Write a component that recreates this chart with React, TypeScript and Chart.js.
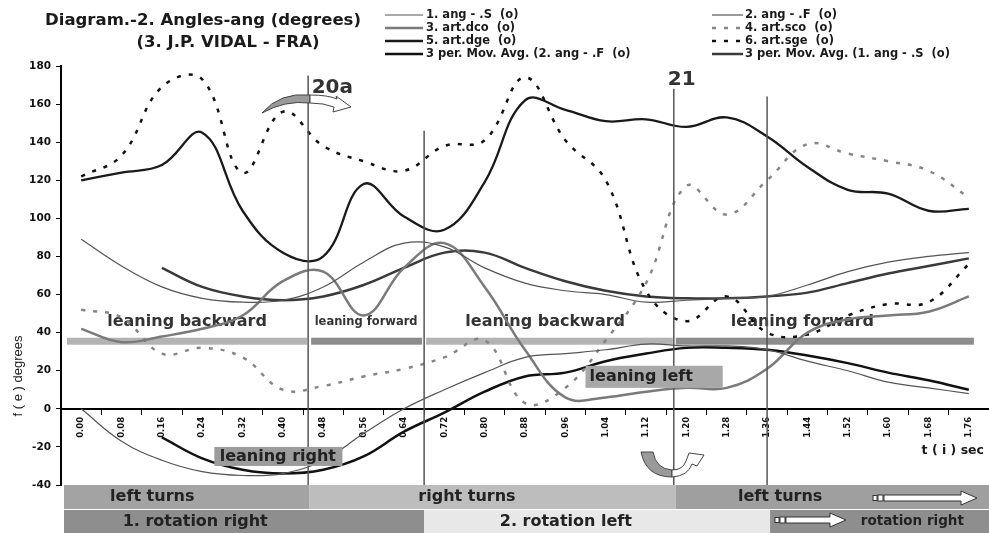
import React, { useEffect, useRef } from 'react';
import { Chart, registerables } from 'chart.js';
Chart.register(...registerables);

const categories = ['0.00','0.08','0.16','0.24','0.32','0.40','0.48','0.56','0.64','0.72','0.80','0.88','0.96','1.04','1.12','1.20','1.28','1.36','1.44','1.52','1.60','1.68','1.76'];

const angS   = [89, 75, 64, 58, 56, 57, 64, 77, 87, 85, 74, 66, 62, 60, 56, 57, 58, 59, 65, 72, 77, 80, 82];
const angF   = [0, -17, -27, -33, -35, -34, -27, -13, 0, 10, 19, 27, 29, 31, 34, 33, 33, 31, 25, 20, 14, 11, 8];
const artDco = [42, 35, 38, 42, 49, 67, 72, 49, 74, 87, 64, 31, 6, 6, 9, 11, 11, 21, 40, 47, 49, 51, 59];
const artSco = [52, 48, 29, 32, 27, 10, 12, 17, 21, 27, 36, 3, 11, 36, 66, 117, 102, 120, 139, 134, 130, 125, 111];
const artDge = [120, 124, 128, 145, 104, 82, 80, 118, 101, 94, 119, 162, 157, 151, 152, 148, 153, 143, 127, 115, 113, 104, 105];
const artSge = [122, 133, 169, 173, 124, 156, 138, 130, 125, 138, 141, 174, 141, 120, 62, 46, 59, 40, 39, 49, 55, 56, 76];
const maAngF = [null, null, -15, -26, -32, -34, -32, -25, -12, -2, 9, 17, 19, 25, 29, 32, 32, 31, 28, 24, 19, 15, 10];
const maAngS = [null, null, 74, 64, 59, 57, 59, 65, 74, 82, 82, 74, 67, 62, 59, 58, 58, 59, 61, 66, 71, 75, 79];

const seriesLabels = [
  '1. ang - .S  (o)', '2. ang - .F  (o)',
  '3. art.dco  (o)', '4. art.sco  (o)',
  '5. art.dge  (o)', '6. art.sge  (o)',
  '3 per. Mov. Avg. (2. ang - .F  (o)', '3 per. Mov. Avg. (1. ang - .S  (o)',
];

// phase markers (time, sec) and their top value
const markerTimes = [0.45, 0.68, 1.175, 1.36];
const markerTops = [175, 146, 168, 164];
const markerNames = ['20a', '', '21', ''];

const leaningBackForth = ['leaning backward', 'leaning forward', 'leaning backward', 'leaning forward'];
const turnLabels = ['left turns', 'right turns', 'left turns'];
const rotationLabels = ['1. rotation right', '2. rotation left', 'rotation right'];

const FONT = 'DejaVu Sans';

function drawBandArrow(ctx: CanvasRenderingContext2D, x0: number, x1: number, y: number) {
  ctx.save();
  ctx.strokeStyle = '#333';
  ctx.lineWidth = 1;
  ctx.fillStyle = '#fff';
  ctx.fillRect(x0, y - 2.5, 4, 5); ctx.strokeRect(x0, y - 2.5, 4, 5);
  ctx.fillRect(x0 + 5, y - 3, 5, 6); ctx.strokeRect(x0 + 5, y - 3, 5, 6);
  const hx = x1 - 16;
  ctx.beginPath();
  ctx.moveTo(x0 + 11, y - 3);
  ctx.lineTo(hx, y - 3);
  ctx.lineTo(hx, y - 7);
  ctx.lineTo(x1, y);
  ctx.lineTo(hx, y + 7);
  ctx.lineTo(hx, y + 3);
  ctx.lineTo(x0 + 11, y + 3);
  ctx.closePath();
  ctx.fill();
  ctx.stroke();
  ctx.restore();
}

const overlay = {
  id: 'overlay',
  beforeDatasetsDraw(chart: any) {
    const ctx: CanvasRenderingContext2D = chart.ctx;
    const xs = chart.scales.x, ys = chart.scales.y, ca = chart.chartArea;
    const px = (t: number) => xs.getPixelForValue(t / 0.08);
    const py = (v: number) => ys.getPixelForValue(v);
    ctx.save();
    // leaning bars
    const by = py(35.5);
    const segs = [
      [ca.left + 6, px(0.45) - 1, '#b3b3b3'],
      [px(0.45) + 3, px(0.68) - 2, '#8c8c8c'],
      [px(0.68) + 2, px(1.175) - 1, '#b3b3b3'],
      [px(1.175) + 2, px(1.77), '#8c8c8c'],
    ] as [number, number, string][];
    segs.forEach(([a, b, c]) => { ctx.fillStyle = c; ctx.fillRect(a, by - 3.5, b - a, 7); });
    // leaning texts
    ctx.fillStyle = '#333';
    ctx.textAlign = 'center';
    ctx.textBaseline = 'middle';
    const lt = [[0.21, 16], [0.565, 11.5], [0.92, 16], [1.43, 16]];
    lt.forEach(([t, s], i) => {
      ctx.font = `bold ${s}px ${FONT}`;
      ctx.fillText(leaningBackForth[i], px(t), py(45.5));
    });
    ctx.restore();
  },
  afterDatasetsDraw(chart: any) {
    const ctx: CanvasRenderingContext2D = chart.ctx;
    const xs = chart.scales.x, ys = chart.scales.y, ca = chart.chartArea;
    const px = (t: number) => xs.getPixelForValue(t / 0.08);
    const py = (v: number) => ys.getPixelForValue(v);
    const W = chart.width, H = chart.height;
    ctx.save();
    // vertical marker lines
    ctx.strokeStyle = '#555';
    ctx.lineWidth = 1.5;
    markerTimes.forEach((t, i) => {
      ctx.beginPath();
      ctx.moveTo(px(t), py(markerTops[i]));
      ctx.lineTo(px(t), ca.bottom);
      ctx.stroke();
    });
    ctx.fillStyle = '#333';
    ctx.font = `bold 20px ${FONT}`;
    ctx.textAlign = 'left';
    ctx.textBaseline = 'alphabetic';
    ctx.fillText(markerNames[0], px(0.457), py(166));
    ctx.fillText(markerNames[2], px(1.163), py(170));

    // leaning left / right boxes
    ctx.fillStyle = '#a8a8a8';
    ctx.fillRect(px(1.0), py(22.6), px(1.272) - px(1.0), py(11) - py(22.6));
    ctx.fillStyle = '#9c9c9c';
    ctx.fillRect(px(0.264), py(-20), px(0.518) - px(0.264), py(-30) - py(-20));
    ctx.fillStyle = '#222';
    ctx.font = `bold 16px ${FONT}`;
    ctx.textBaseline = 'middle';
    ctx.textAlign = 'left';
    ctx.fillText('leaning left', px(1.008), py(16.8));
    ctx.textAlign = 'center';
    ctx.fillText('leaning right', px(0.39), py(-25));

    // curved arrow near 20a
    ctx.lineWidth = 1;
    ctx.strokeStyle = '#444';
    ctx.fillStyle = '#9a9a9a';
    ctx.beginPath();
    ctx.moveTo(262, 113);
    ctx.quadraticCurveTo(280, 92, 310, 95);
    ctx.lineTo(310, 103);
    ctx.quadraticCurveTo(285, 100, 262, 113);
    ctx.closePath();
    ctx.fill(); ctx.stroke();
    ctx.fillStyle = '#fff';
    ctx.beginPath();
    ctx.moveTo(310, 95);
    ctx.quadraticCurveTo(328, 95, 337, 99);
    ctx.lineTo(336, 96);
    ctx.lineTo(351, 107);
    ctx.lineTo(333, 112);
    ctx.lineTo(334, 107);
    ctx.quadraticCurveTo(324, 103, 310, 103);
    ctx.closePath();
    ctx.fill(); ctx.stroke();

    // U-shaped arrow near 21
    ctx.fillStyle = '#9a9a9a';
    ctx.beginPath();
    ctx.moveTo(641, 452);
    ctx.quadraticCurveTo(646, 477, 672, 477);
    ctx.lineTo(672, 470);
    ctx.quadraticCurveTo(656, 469, 653, 452);
    ctx.closePath();
    ctx.fill(); ctx.stroke();
    ctx.fillStyle = '#fff';
    ctx.beginPath();
    ctx.moveTo(672, 477);
    ctx.quadraticCurveTo(688, 476, 692, 464);
    ctx.lineTo(697, 466);
    ctx.lineTo(704, 455);
    ctx.lineTo(689, 453);
    ctx.lineTo(686, 461);
    ctx.quadraticCurveTo(683, 470, 672, 470);
    ctx.closePath();
    ctx.fill(); ctx.stroke();

    // bottom bands
    const y0 = ca.bottom, y1 = 509, y2 = 510;
    const bx = 64;
    const top = [
      [bx, px(0.45) + 1, '#a3a3a3', 0.141, 16],
      [px(0.45) + 1, px(1.175) + 2, '#bdbdbd', 0.765, 16],
      [px(1.175) + 2, W, '#9f9f9f', 1.386, 16],
    ] as [number, number, string, number, number][];
    const bot = [
      [bx, px(0.68), '#8e8e8e', 0.226, 16],
      [px(0.68), px(1.36) + 3, '#e8e8e8', 0.961, 16],
      [px(1.36) + 3, W, '#8e8e8e', 1.648, 13.5],
    ] as [number, number, string, number, number][];
    ctx.textAlign = 'center';
    ctx.textBaseline = 'middle';
    top.forEach(([a, b, c, t, s], i) => {
      ctx.fillStyle = c; ctx.fillRect(a, y0, b - a, y1 - y0);
      ctx.font = `bold ${s}px ${FONT}`;
      ctx.fillStyle = '#222'; ctx.fillText(turnLabels[i], px(t), (y0 + y1) / 2);
    });
    bot.forEach(([a, b, c, t, s], i) => {
      ctx.fillStyle = c; ctx.fillRect(a, y2, b - a, H - y2);
      ctx.font = `bold ${s}px ${FONT}`;
      ctx.fillStyle = '#222'; ctx.fillText(rotationLabels[i], px(t), (y2 + H) / 2);
    });
    drawBandArrow(ctx, 873, 977, 498);
    drawBandArrow(ctx, 775, 846, 520);

    // titles
    ctx.fillStyle = '#1a1a1a';
    ctx.font = `bold 16.5px ${FONT}`;
    ctx.textAlign = 'center';
    ctx.fillText('Diagram.-2. Angles-ang (degrees)', 203, 21);
    ctx.fillText('(3. J.P. VIDAL - FRA)', 228, 43);

    // axis titles
    ctx.font = `bold 12.5px ${FONT}`;
    ctx.textAlign = 'right';
    ctx.fillText('t ( i ) sec', 984, 451);
    ctx.save();
    ctx.translate(18, 376);
    ctx.rotate(-Math.PI / 2);
    ctx.textAlign = 'center';
    ctx.font = `13px Liberation Sans`;
    ctx.fillText('f ( e ) degrees', 0, 0);
    ctx.restore();

    // legend
    ctx.font = `bold 11.5px ${FONT}`;
    ctx.textAlign = 'left';
    ctx.textBaseline = 'middle';
    chart.data.datasets.forEach((ds: any, i: number) => {
      const col = i % 2, row = Math.floor(i / 2);
      const x0 = col ? 712 : 385, x1 = col ? 743 : 423, tx = col ? 745 : 426;
      const y = 15 + row * 13;
      ctx.save();
      ctx.strokeStyle = ds.borderColor;
      ctx.lineWidth = Math.min(ds.borderWidth, 2.5);
      ctx.setLineDash(ds.borderDash || []);
      ctx.beginPath(); ctx.moveTo(x0, y); ctx.lineTo(x1, y); ctx.stroke();
      ctx.restore();
      ctx.fillStyle = '#1a1a1a';
      ctx.fillText(ds.label, tx, y);
    });
    ctx.restore();
  },
};

export default function App() {
  const ref = useRef<HTMLCanvasElement>(null);
  useEffect(() => {
    if (!ref.current) return;
    Chart.defaults.font.family = FONT;
    const mk = (i: number, data: (number | null)[], color: string, width: number, dash?: number[]) => ({
      label: seriesLabels[i], data, borderColor: color, borderWidth: width, borderDash: dash,
      pointRadius: 0, fill: false, tension: 0.4, spanGaps: false,
    });
    const chart = new Chart(ref.current, {
      type: 'line',
      data: {
        labels: categories,
        datasets: [
          mk(0, angS, '#555', 1.2),
          mk(1, angF, '#555', 1.2),
          mk(2, artDco, '#7a7a7a', 2.5),
          mk(3, artSco, '#858585', 2.5, [4, 8]),
          mk(4, artDge, '#1a1a1a', 2.3),
          mk(5, artSge, '#111', 2.5, [4, 8]),
          mk(6, maAngF, '#111', 2.5),
          mk(7, maAngS, '#3a3a3a', 2.5),
        ] as any,
      },
      options: {
        responsive: false,
        animation: false,
        maintainAspectRatio: false,
        layout: { padding: { top: 66, left: 0, right: 0, bottom: 48 } },
        plugins: { legend: { display: false }, title: { display: false }, tooltip: { enabled: false } },
        scales: {
          x: {
            type: 'category',
            position: { y: 0 } as any,
            offset: true,
            grid: { offset: true, drawOnChartArea: false, tickLength: 5, color: '#000', lineWidth: 1 },
            border: { color: '#000', width: 2 },
            ticks: { maxRotation: 90, minRotation: 90, autoSkip: false, color: '#111', padding: 3, font: { family: FONT, weight: 'bold', size: 8.5 } },
          },
          y: {
            min: -40, max: 180,
            ticks: { stepSize: 20, color: '#111', padding: 5, font: { family: FONT, weight: 'bold', size: 10.5 } },
            grid: { drawOnChartArea: false, tickLength: 5, color: '#000' },
            border: { color: '#000', width: 2 },
            afterFit: (s: any) => { s.width = 61; },
          },
        },
      } as any,
      plugins: [overlay],
    });
    return () => chart.destroy();
  }, []);
  return (
    <div style={{ position: 'absolute', left: 0, top: 0, width: 989, height: 533, background: '#fff' }}>
      <canvas ref={ref} width={989} height={533} />
    </div>
  );
}
